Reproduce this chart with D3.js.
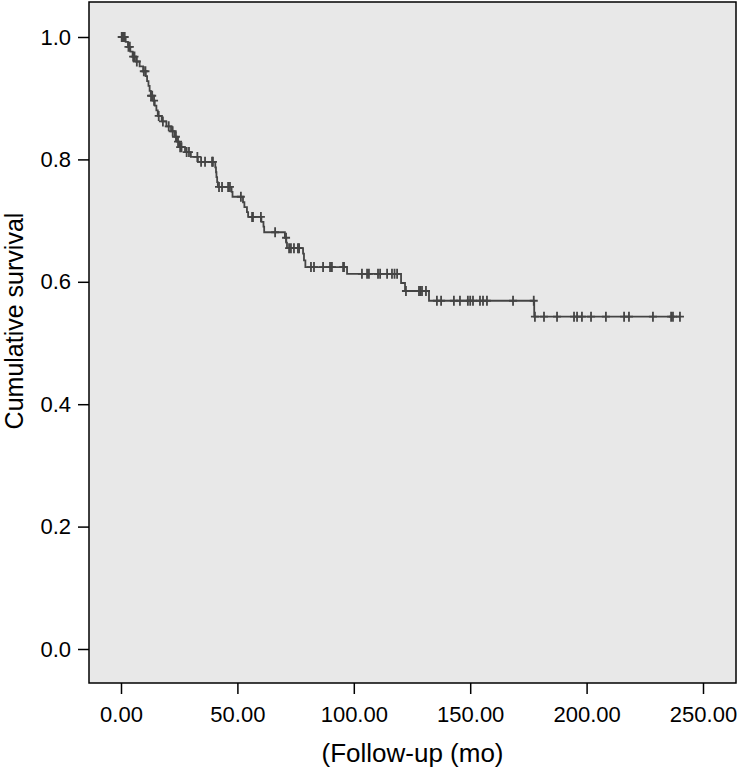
<!DOCTYPE html>
<html>
<head>
<meta charset="utf-8">
<script src="https://cdn.jsdelivr.net/npm/d3@7/dist/d3.min.js"></script>
<style>
  body { margin: 0; background: #fff; }
  svg text { font-family: "Liberation Sans", Arial, sans-serif; fill: #000; }
</style>
</head>
<body>
<div id="chart"></div>
<script>
// Kaplan-Meier steps: time of each drop and survival after it
var eventTimes = [2, 3, 4, 5, 6.5, 8, 9.5, 10.6, 11.2, 11.8, 12.3, 12.8, 13.6, 14.5, 15.2, 15.8,
  17.5, 19.5, 21.5, 23, 24, 25, 27.5, 30, 33,
  40.5, 40.8, 41, 41.3, 41.6, 47.5, 47.9, 52.4, 53, 54.1, 54.6, 60.3, 61.2, 61.5,
  70.4, 71, 71.3, 78.2, 78.6, 79.2, 97.1, 120.3, 122, 132.3, 177.5];
var survival = [0.992, 0.984, 0.976, 0.968, 0.960, 0.952, 0.944, 0.936, 0.928, 0.920, 0.912, 0.904, 0.896, 0.888, 0.880, 0.871,
  0.862, 0.854, 0.846, 0.837, 0.829, 0.820, 0.812, 0.804, 0.796,
  0.787, 0.779, 0.771, 0.763, 0.755, 0.747, 0.739, 0.730, 0.722, 0.714, 0.706, 0.698, 0.690, 0.681,
  0.672, 0.664, 0.655, 0.646, 0.635, 0.624, 0.613, 0.598, 0.585, 0.569, 0.543];
var lastTime = 240.1;

// Censored observations (months)
var censorTimes = [0.3, 0.8, 1.2, 1.6, 3.2, 3.8, 5.2, 5.8, 6.8, 9.8, 10.5, 12.9, 13.4, 14.2,
  16.2, 18, 20.5, 22.2, 23.6, 24.5, 25.4, 26, 28.2, 29.2, 32.8,
  34.4, 36.1, 39.1, 39.5, 42.1, 43.4, 46, 46.8, 51.5, 56.3, 56.7, 60.1, 66.2,
  70.9, 72.2, 73, 74.3, 76, 76.5, 81.6, 82.9, 86.8, 89.8, 90.6, 95.4, 95.8,
  103.5, 105.7, 106.5, 110.4, 111.3, 114.3, 116.4, 117.5, 118.6,
  122.4, 128, 128.6, 129.3, 131, 135.7, 137.5, 143, 145.6, 149, 150, 151.2, 154.2, 155.5, 157.2,
  168.4, 177.3, 177.8, 181.7, 187.3, 194.6, 195.9, 198, 201.9, 208.3, 216.1, 218.2, 228.5, 236.3, 237.1, 240.1];

var xTicks = [0, 50, 100, 150, 200, 250];
var yTicks = [0, 0.2, 0.4, 0.6, 0.8, 1.0];

var width = 740, height = 768;
var frame = { left: 89, right: 736, top: 2, bottom: 683 };

var svg = d3.select("#chart").append("svg")
  .attr("width", width)
  .attr("height", height);

var xScale = d3.scaleLinear().domain([0, 250]).range([121, 703]);
var yScale = d3.scaleLinear().domain([0, 1]).range([649, 37]);

// Plot background and frame
svg.append("rect")
  .attr("x", frame.left)
  .attr("y", frame.top)
  .attr("width", frame.right - frame.left)
  .attr("height", frame.bottom - frame.top)
  .attr("fill", "#e8e8e8")
  .attr("stroke", "#000")
  .attr("stroke-width", 1.5);

// Axes
var xAxis = d3.axisBottom(xScale)
  .tickValues(xTicks)
  .tickSize(11)
  .tickPadding(12)
  .tickFormat(d3.format(".2f"));

var yAxis = d3.axisLeft(yScale)
  .tickValues(yTicks)
  .tickSize(11)
  .tickPadding(7)
  .tickFormat(d3.format(".1f"));

var gx = svg.append("g")
  .attr("transform", "translate(0," + frame.bottom + ")")
  .call(xAxis);
var gy = svg.append("g")
  .attr("transform", "translate(" + frame.left + ",0)")
  .call(yAxis);

[gx, gy].forEach(function(g) {
  g.select(".domain").remove();
  g.selectAll(".tick line").attr("stroke", "#000").attr("stroke-width", 1.5);
  g.selectAll(".tick text").attr("font-size", 22).attr("font-family", "Liberation Sans, Arial, sans-serif");
});

// Axis titles
svg.append("text")
  .attr("x", (frame.left + frame.right) / 2)
  .attr("y", 762)
  .attr("text-anchor", "middle")
  .attr("font-size", 26)
  .text("(Follow-up (mo)");

svg.append("text")
  .attr("transform", "translate(23,321) rotate(-90)")
  .attr("text-anchor", "middle")
  .attr("font-size", 25)
  .text("Cumulative survival");

// Build step path
var pts = [[0, 1]];
var s = 1;
eventTimes.forEach(function(t, i) {
  pts.push([t, s]);
  s = survival[i];
  pts.push([t, s]);
});
pts.push([lastTime, s]);

var line = d3.line()
  .x(d => xScale(d[0]))
  .y(d => yScale(d[1]));

svg.append("path")
  .datum(pts)
  .attr("d", line)
  .attr("fill", "none")
  .attr("stroke", "#444")
  .attr("stroke-width", 1.8);

// survival level at a given time (right-continuous step)
function survAt(t) {
  var v = 1;
  for (var i = 0; i < eventTimes.length; i++) {
    if (eventTimes[i] <= t) v = survival[i];
  }
  return v;
}

var marks = svg.append("g")
  .attr("stroke", "#444")
  .attr("stroke-width", 1.8);

marks.selectAll("path")
  .data(censorTimes)
  .enter()
  .append("path")
  .attr("d", function(t) {
    var cx = xScale(t), cy = yScale(survAt(t));
    return "M" + (cx - 4) + "," + cy + "H" + (cx + 4) + "M" + cx + "," + (cy - 5) + "V" + (cy + 5);
  });
</script>
</body>
</html>
